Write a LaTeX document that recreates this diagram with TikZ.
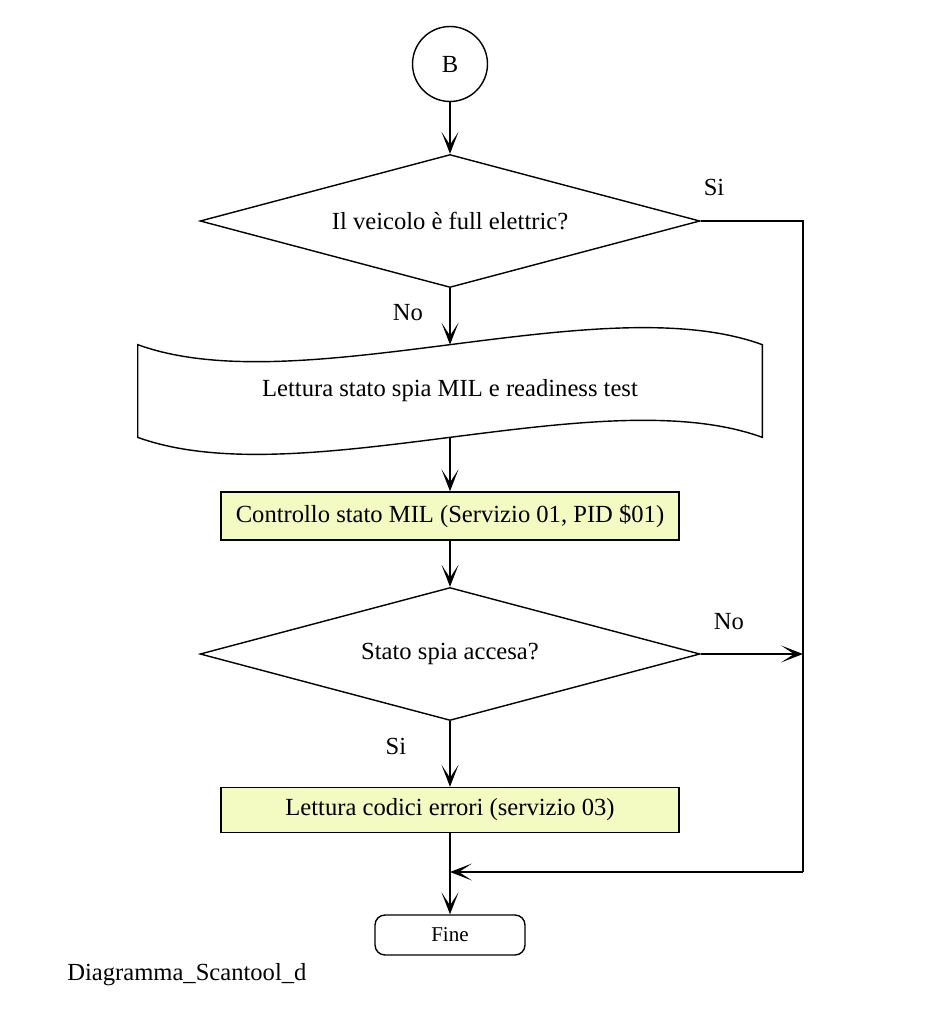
\documentclass[tikz,border=0pt]{standalone}
\usepackage{fontspec}
\setmainfont{Liberation Serif}
\usepackage{xcolor}
\usepackage{tikz}
\usetikzlibrary{shapes.geometric, positioning, arrows.meta, calc}

\definecolor{boxyellow}{RGB}{243,250,194}

\tikzset{
	freccia/.style={draw, line width=0.8pt, -{Stealth[length=0.44cm, width=0.34cm, inset=0.26cm]}},
	linea/.style={draw, line width=0.8pt},
	decisione/.style={diamond, draw, line width=0.8pt, minimum width=10cm, minimum height=2.66cm, aspect=3.76, inner sep=0pt},
	processo/.style={rectangle, draw, line width=0.8pt, fill=boxyellow, minimum width=9.16cm, inner sep=0pt},
	etichetta/.style={inner sep=0pt}
}

\begin{document}
\begin{tikzpicture}[x=0.02cm, y=-0.02cm, font=\fontsize{14}{16}\selectfont]
	\useasboundingbox (0,0) rectangle (928,1024);
	
	% Connettore iniziale
	\node[circle, draw, line width=0.8pt, minimum size=1.5cm, inner sep=0pt] (conB) at (450,64) {B};
	
	% Prima decisione
	\node[decisione] (q1) at (450,221) {Il veicolo è full elettric?};
	\node[etichetta] (si1) at (714,187) {Si};
	\node[etichetta] (no1) at (408,313) {No};
	
	% Nastro di lettura
	\node[minimum width=12.48cm, minimum height=1.84cm, inner sep=0pt] (lettura) at (450,391) {Lettura stato spia MIL e readiness test};
	\draw[linea] (lettura.north west) .. controls ++(162,59) and ++(-162,-59) .. (lettura.north east)
		-- (lettura.south east) .. controls ++(-162,-59) and ++(162,59) .. (lettura.south west) -- cycle;
	
	% Controllo MIL
	\node[processo, minimum height=0.96cm] (mil) at (450,516) {Controllo stato MIL (Servizio 01, PID \$01)};
	
	% Seconda decisione
	\node[decisione] (q2) at (450,654) {Stato spia accesa?};
	\node[etichetta] (no2) at (729,622) {No};
	\node[etichetta] (si2) at (396,746) {Si};
	
	% Lettura codici
	\node[processo, minimum height=0.9cm] (codici) at (450,810) {Lettura codici errori (servizio 03)};
	
	% Fine
	\node[rectangle, rounded corners=0.2cm, draw, line width=0.8pt, minimum width=3cm, minimum height=0.8cm, font=\fontsize{12}{14}\selectfont] (fine) at (450,935) {Fine};
	
	\node[anchor=west, etichetta] (titolo) at (67,975) {Diagramma\_Scantool\_d};
	
	% Punti di raccordo
	\coordinate (binario) at (803,872);
	\coordinate (unione) at (450,872);
	
	% Collegamenti
	\draw[freccia] (conB) -- (q1);
	\draw[freccia] (q1) -- (lettura);
	\draw[freccia] (lettura) -- (mil);
	\draw[freccia] (mil) -- (q2);
	\draw[freccia] (q2) -- (codici);
	\draw[freccia] (codici) -- (fine);
	\draw[linea] (q1.east) -| (binario);
	\draw[freccia] (binario) -- (unione);
	\draw[freccia] (q2.east) -- (q2.east -| binario);
	
\end{tikzpicture}
\end{document}
